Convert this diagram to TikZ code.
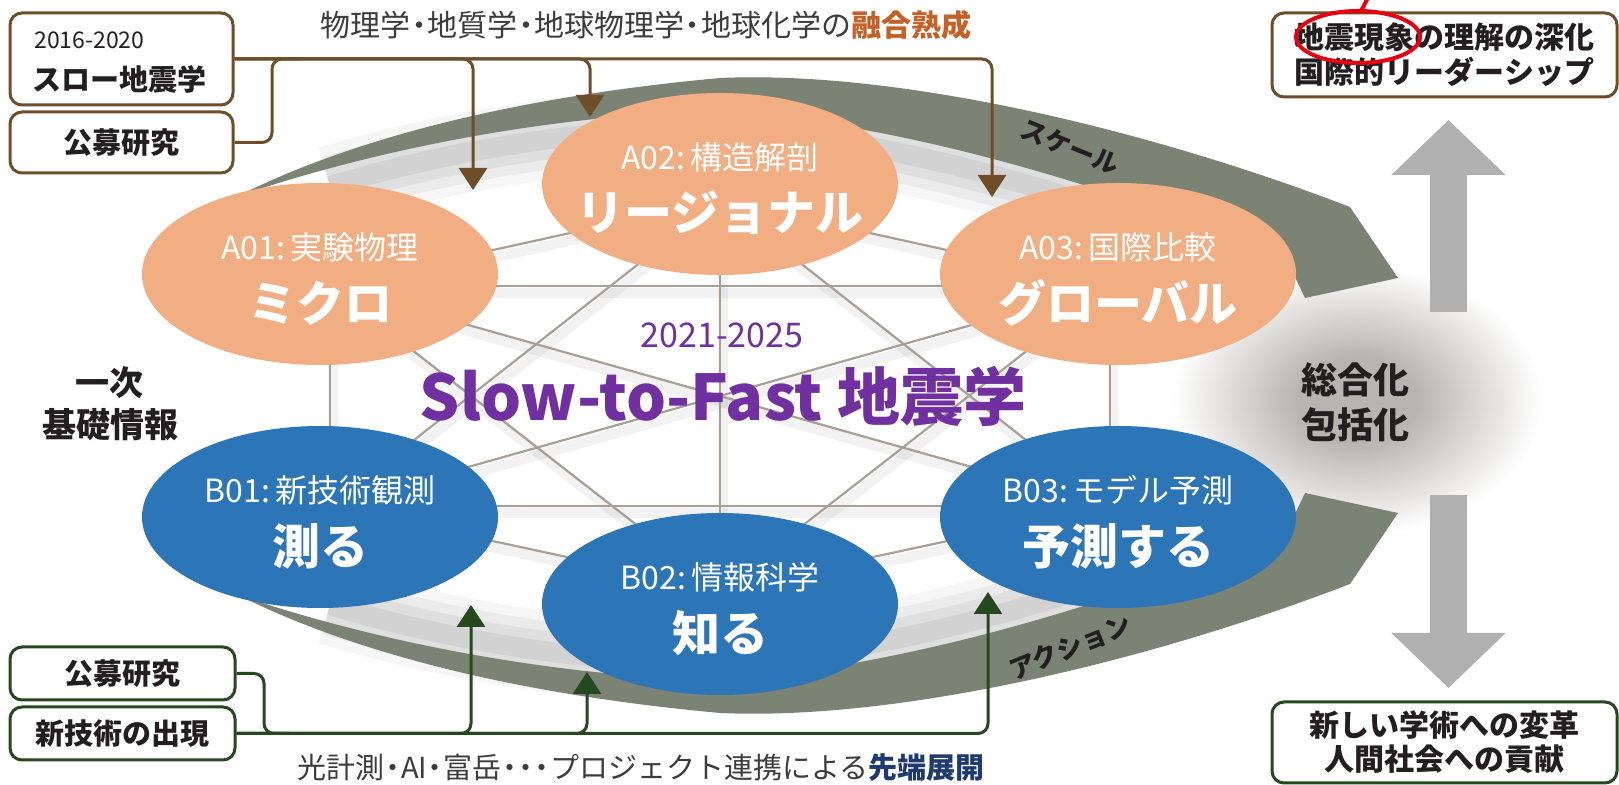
\documentclass[tikz,border=0pt]{standalone}
\usepackage{fontspec}
\setmainfont{Noto Sans CJK JP}
\usetikzlibrary{shapes.geometric,arrows.meta}
\definecolor{salmon}{RGB}{240,174,130}
\definecolor{blueA}{RGB}{44,117,182}
\definecolor{bandgreen}{RGB}{123,132,116}
\definecolor{brownL}{RGB}{110,78,40}
\definecolor{dkgreen}{RGB}{38,72,30}
\definecolor{txt}{RGB}{35,31,32}
\definecolor{txtgray}{RGB}{60,60,60}
\definecolor{orangeT}{RGB}{197,96,38}
\definecolor{navyT}{RGB}{31,58,110}
\definecolor{purpleT}{RGB}{112,48,160}
\definecolor{webc}{RGB}{168,160,150}
\definecolor{arrowgray}{RGB}{176,176,176}
\definecolor{glowc}{RGB}{184,180,177}
\definecolor{redC}{RGB}{230,0,18}
\pgfdeclareradialshading{glow}{\pgfpoint{0bp}{0bp}}{color(0bp)=(glowc); color(8bp)=(glowc); color(25bp)=(white); color(50bp)=(white)}
\newcommand{\jdot}{\hspace{-0.22em}・\hspace{-0.22em}}
\begin{document}
\begin{tikzpicture}[x=0.5pt,y=-0.5pt,
  ell/.style={ellipse, minimum width=178pt, minimum height=91pt, inner sep=0pt},
  aell/.style={ell, fill=salmon},
  bell/.style={ell, fill=blueA},
  smalllbl/.style={text=white, font=\fontsize{16}{18}\selectfont, inner sep=0pt},
  biglbl/.style={text=white, font=\fontsize{24}{28}\selectfont\bfseries, inner sep=0pt},
  box/.style={draw, line width=1.5pt, rounded corners=6pt, fill=white, inner sep=0pt, text=txt},
  boxtxt/.style={text=txt, font=\fontsize{14.5}{17}\selectfont\bfseries, inner sep=0pt},
  web/.style={draw=webc, line width=1.1pt},
  webshadow/.style={draw=gray, line width=5pt, opacity=0.10, line cap=round},
  topconn/.style={draw=brownL, line width=1.5pt, rounded corners=5pt, -{Triangle[width=14pt,length=11pt]}},
  botconn/.style={draw=dkgreen, line width=1.5pt, rounded corners=5pt, -{Triangle[width=14pt,length=11pt]}},
  bandtext/.style={text=txt, font=\fontsize{13}{15}\selectfont\bfseries, inner sep=0pt},
  bigarrow/.style={draw=arrowgray, line width=18.5pt, -{Triangle[width=55.5pt,length=27.5pt]}}
]
\useasboundingbox[fill=white] (0,0) rectangle (1619,785);

% glow behind the synthesis label
\shade[shading=glow] (1357,400) ellipse [x radius=185, y radius=135];

% web vertices
\coordinate (wa1) at (330,286);
\coordinate (wa2) at (720,200);
\coordinate (wa3) at (1110,286);
\coordinate (wb1) at (330,506);
\coordinate (wb2) at (720,590);
\coordinate (wb3) at (1110,506);
\foreach \p/\q in {wa1/wa2,wa1/wa3,wa1/wb1,wa1/wb2,wa1/wb3,wa2/wa3,wa2/wb1,wa2/wb2,wa2/wb3,wa3/wb1,wa3/wb2,wa3/wb3,wb1/wb2,wb1/wb3,wb2/wb3}
  \draw[webshadow] ([shift={(3,7)}]\p) -- ([shift={(3,7)}]\q);
\foreach \p/\q in {wa1/wa2,wa1/wa3,wa1/wb1,wa1/wb2,wa1/wb3,wa2/wa3,wa2/wb1,wa2/wb2,wa2/wb3,wa3/wb1,wa3/wb2,wa3/wb3,wb1/wb2,wb1/wb3,wb2/wb3}
  \draw[web] (\p) -- (\q);

% ribbon undersides
\begin{scope}[yshift=-8pt]
\foreach \w/\o in {40/0.07,30/0.09,20/0.11,10/0.13}
  \draw[line width=\w pt, gray, opacity=\o]
    (1290,262) .. controls (1150,205) and (950,130) .. (720,110) .. controls (560,114) and (430,140) .. (330,170);
\end{scope}
\begin{scope}[yshift=8pt]
\foreach \w/\o in {40/0.07,30/0.09,20/0.11,10/0.13}
  \draw[line width=\w pt, gray, opacity=\o]
    (1290,529) .. controls (1150,586) and (950,661) .. (720,681) .. controls (560,677) and (430,651) .. (330,621);
\end{scope}

% green bands
\fill[bandgreen] (238,196) .. controls (330,150) and (480,100) .. (720,78)
  .. controls (900,70) and (1150,130) .. (1350,207) -- (1398,278) -- (1305,298) -- (1285,256)
  .. controls (1150,205) and (950,130) .. (720,110) .. controls (500,118) and (330,165) .. (238,196) -- cycle;
\fill[bandgreen] (238,595) .. controls (330,641) and (480,691) .. (720,713)
  .. controls (900,721) and (1150,661) .. (1350,584) -- (1398,513) -- (1305,493) -- (1285,535)
  .. controls (1150,586) and (950,661) .. (720,681) .. controls (500,673) and (330,626) .. (238,595) -- cycle;
\node[bandtext, rotate=-22] (scale) at (1070,147) {スケール};
\node[bandtext, rotate=22] (action) at (1070,647) {アクション};

% ellipses
\node[aell] (a01) at (320,274) {};
\node[aell] (a02) at (720,184) {};
\node[aell] (a03) at (1118,274) {};
\node[bell] (b01) at (320,517) {};
\node[bell] (b02) at (720,604) {};
\node[bell] (b03) at (1118,517) {};
\foreach \n/\s/\b in {a01/A01:\,実験物理/ミクロ, a02/A02:\,構造解剖/リージョナル, a03/A03:\,国際比較/グローバル,
                      b01/B01:\,新技術観測/測る, b02/B02:\,情報科学/知る, b03/B03:\,モデル予測/予測する}{
  \node[smalllbl] (\n s) at ([yshift=13.5pt]\n.center) {\s};
  \node[biglbl] (\n b) at ([yshift=-14.5pt]\n.center) {\b};
}

% centre title
\node[text=purpleT, font=\fontsize{17}{20}\selectfont, inner sep=0pt] (years) at (722,335) {2021-2025};
\node[text=purpleT, font=\fontsize{31.5}{36}\selectfont\bfseries, inner sep=0pt] (title) at (723,396) {Slow-to-Fast 地震学};

% left label
\node[text=txt, font=\fontsize{17}{21}\selectfont\bfseries, align=center, inner sep=0pt] (basic) at (110,404) {一次\\基礎情報};

% synthesis
\node[text=txt, font=\fontsize{18}{22.5}\selectfont\bfseries, align=center, inner sep=0pt] (synth) at (1355,402) {総合化\\包括化};

% top-left boxes
\node[box, draw=brownL, minimum width=111.5pt, minimum height=46pt] (tb1) at (121.5,59) {};
\node[text=txt, font=\fontsize{11.5}{13}\selectfont, anchor=west, inner sep=0pt] (yr) at (34,40) {2016-2020};
\node[boxtxt, anchor=west] (slow) at (32,79) {スロー地震学};
\node[box, draw=brownL, minimum width=111.5pt, minimum height=30.5pt] (tb2) at (121.5,142.5) {};
\node[boxtxt] (kobo1) at (tb2.center) {公募研究};

% top connectors
\coordinate (ta1) at (473,190);
\coordinate (ta2) at (590,117);
\coordinate (ta3) at (992,197);
\draw[topconn] (tb1.east) -| (ta1);
\draw[topconn] (tb1.east) -| (ta2);
\draw[topconn] (tb1.east) -| (ta3);
\draw[draw=brownL, line width=1.5pt, rounded corners=5pt] (tb2.east) -- (272,142.5) -- (272,59) -- (300,59);
\node[text=txtgray, font=\fontsize{15}{17}\selectfont, inner sep=0pt] (toptext) at (646,25) {物理学\jdot 地質学\jdot 地球物理学\jdot 地球化学の\textcolor{orangeT}{\bfseries 融合熟成}};

% bottom-left boxes
\node[box, draw=dkgreen, minimum width=112.5pt, minimum height=26.5pt] (bb1) at (122.5,673.5) {};
\node[boxtxt] (kobo2) at (bb1.center) {公募研究};
\node[box, draw=dkgreen, minimum width=112.5pt, minimum height=26.5pt] (bb2) at (122.5,733.5) {};
\node[boxtxt] (newtech) at (bb2.center) {新技術の出現};

% bottom connectors
\coordinate (tbb1) at (471,605);
\coordinate (tbb2) at (587,672);
\coordinate (tbb3) at (988,592);
\draw[botconn] (bb2.east) -| (tbb1);
\draw[botconn] (bb2.east) -| (tbb2);
\draw[botconn] (bb2.east) -| (tbb3);
\draw[draw=dkgreen, line width=1.5pt, rounded corners=5pt] (bb1.east) -- (264,673.5) -- (264,733.5) -- (290,733.5);
\node[text=txtgray, font=\fontsize{14.5}{17}\selectfont, inner sep=0pt] (bottext) at (641,768) {光計測\jdot AI\jdot 富岳\jdot\jdot\jdot プロジェクト連携による\textcolor{navyT}{\bfseries 先端展開}};

% right boxes
\node[box, draw=brownL, minimum width=172.5pt, minimum height=42pt, align=center, font=\fontsize{15}{17.5}\selectfont\bfseries] (rt) at (1444.5,55) {地震現象の理解の深化\\国際的リーダーシップ};
\node[box, draw=dkgreen, minimum width=172.5pt, minimum height=40.5pt, align=center, font=\fontsize{15}{17}\selectfont\bfseries] (rb) at (1444.5,742.5) {新しい学術への変革\\人間社会への貢献};

% big gray arrows
\coordinate (upS) at (1448.5,312);
\coordinate (upE) at (1448.5,120);
\coordinate (dnS) at (1448.5,495);
\coordinate (dnE) at (1448.5,688);
\draw[bigarrow] (upS) -- (upE);
\draw[bigarrow] (dnS) -- (dnE);

% red annotation
\draw[redC, line width=2pt] (1358,37) ellipse [x radius=62, y radius=26];
\draw[redC, line width=2pt] (1361,11) -- (1369,-4);
\end{tikzpicture}
\end{document}
